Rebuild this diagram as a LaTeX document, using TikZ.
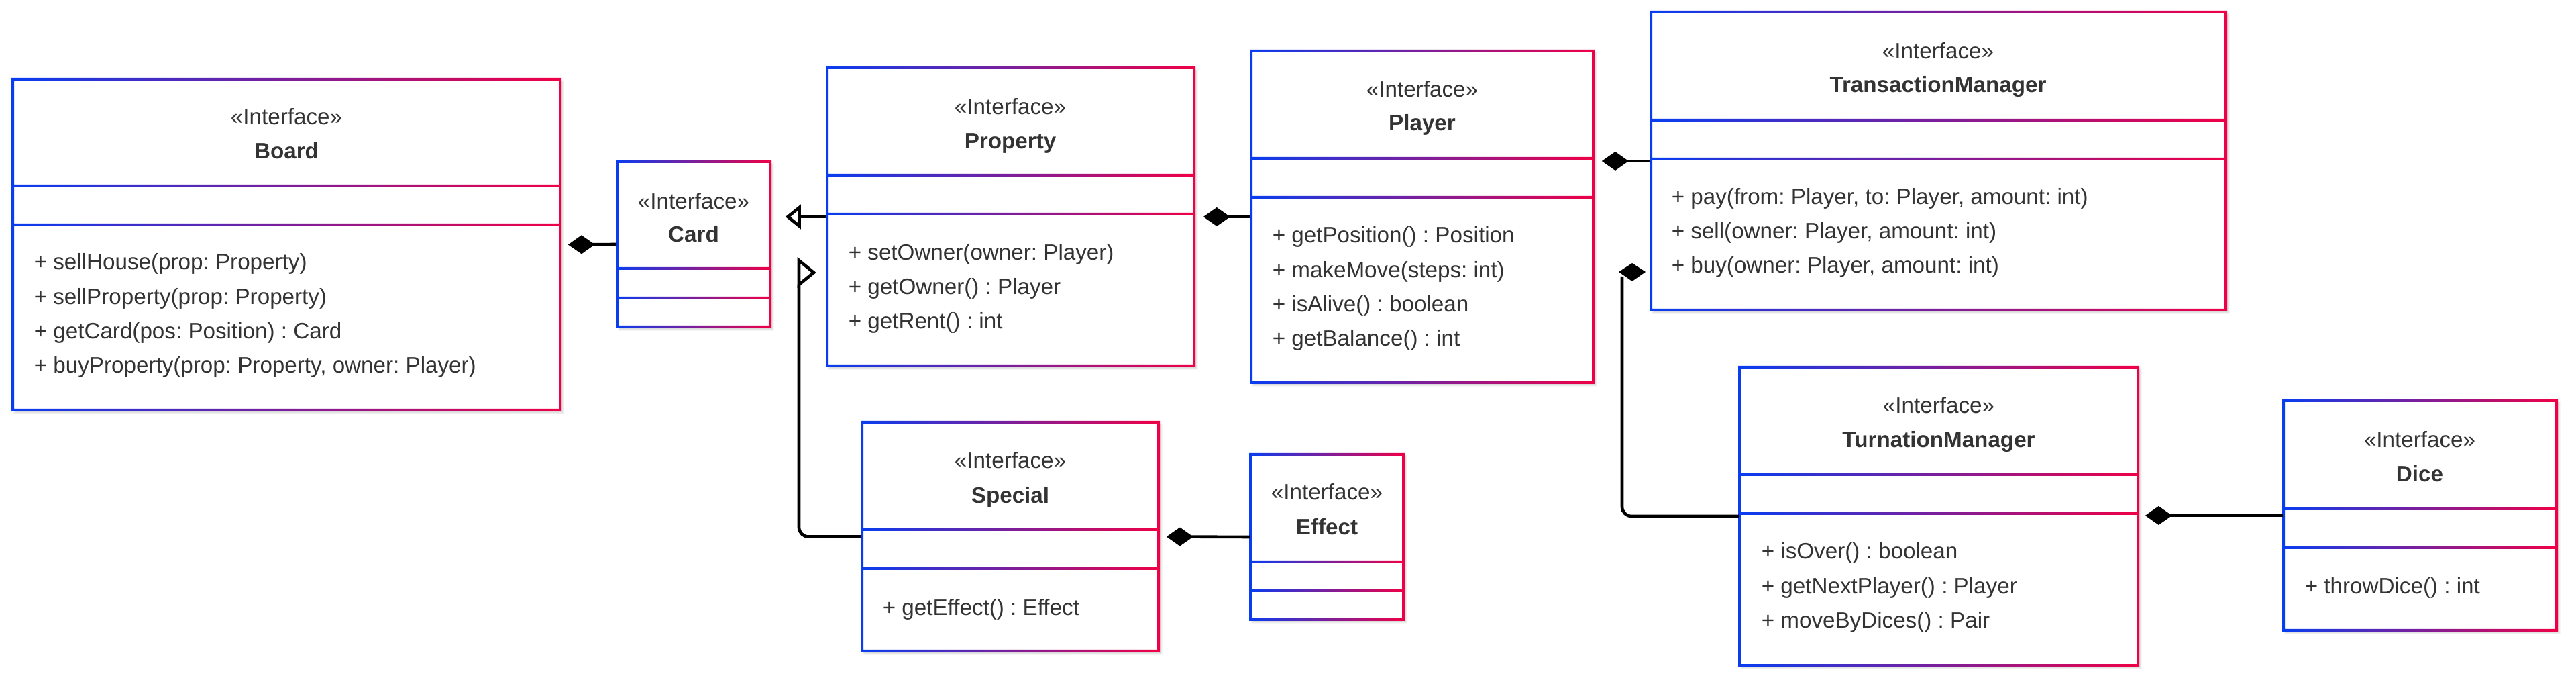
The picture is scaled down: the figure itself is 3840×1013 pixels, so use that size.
\documentclass[tikz,border=0pt]{standalone}
\usepackage{fontspec}
\setmainfont{Liberation Sans}
\usetikzlibrary{arrows.meta,fit}
\definecolor{uBlue}{RGB}{8,61,240}
\definecolor{uRed}{RGB}{240,0,70}
\definecolor{txt}{RGB}{51,51,51}
\frenchspacing
\tikzset{
  stereo/.style={font=\fontsize{8.3}{10}\selectfont, text=txt, anchor=base, inner sep=0pt},
  cname/.style={font=\fontsize{8.3}{10}\selectfont\bfseries, text=txt, anchor=base, inner sep=0pt},
  meth/.style={font=\fontsize{8.3}{10}\selectfont, text=txt, anchor=base west, inner sep=0pt},
  conn/.style={line width=1.15pt, draw=black},
  comp/.style={conn, {Diamond[length=10pt 0 0,width=7pt 0 0]}-},
  gen/.style={conn, -{Triangle[open,length=5.75pt 0 0,width=9pt 0 0]}},
  boxframe/.style={left color=uBlue, right color=uRed, even odd rule},
}
% name, x1, y1, x2, y2, divider1, divider2
\newcommand\umlbox[7]{%
  \foreach \k in {1,...,4}{\fill[black,opacity=0.035] (#2+5-\k,#3+5-\k) rectangle (#4+2+\k,#5+2+\k);}
  \fill[white] (#2,#3) rectangle (#4,#5);
  \shade[boxframe] (#2-2,#3-2) rectangle (#4+2,#5+2)
     (#2+2,#3+2) rectangle (#4-2,#6-2)
     (#2+2,#6+2) rectangle (#4-2,#7-2)
     (#2+2,#7+2) rectangle (#4-2,#5-2);
  \node[fit={(#2,#3) (#4,#5)}, inner sep=0pt] (#1) {};
}
\begin{document}
\begin{tikzpicture}[x=0.25pt,y=-0.25pt]
\useasboundingbox (0,0) rectangle (3840,1013);
\fill[white] (0,0) rectangle (3840,1013);

% boxes
\umlbox{board}{19}{118}{835}{611}{277}{335}
\umlbox{card}{920}{241}{1148}{487}{400}{444}
\umlbox{property}{1233}{101}{1780}{545}{261}{319}
\umlbox{player}{1865}{76}{2375}{570}{236}{294}
\umlbox{transaction}{2461}{18}{3318}{462}{179}{237}
\umlbox{turnation}{2593}{547}{3187}{991}{707}{765}
\umlbox{dice}{3404}{597}{3811}{939}{758}{816}
\umlbox{special}{1285}{629}{1727}{970}{789}{847}
\umlbox{effect}{1864}{677}{2092}{923}{837}{880}

% Board
\node[stereo] (board-s) at (427,186) {«Interface»};
\node[cname] (board-n) at (427,237) {Board};
\node[meth] (board-m1) at (50,402) {+ sellHouse(prop: Property)};
\node[meth] (board-m2) at (50,454) {+ sellProperty(prop: Property)};
\node[meth] (board-m3) at (50,505) {+ getCard(pos: Position) : Card};
\node[meth] (board-m4) at (50,556) {+ buyProperty(prop: Property, owner: Player)};

% Card
\node[stereo] (card-s) at (1034,312) {«Interface»};
\node[cname] (card-n) at (1034,361) {Card};

% Property
\node[stereo] (property-s) at (1506,171) {«Interface»};
\node[cname] (property-n) at (1506,222) {Property};
\node[meth] (property-m1) at (1264,388) {+ setOwner(owner: Player)};
\node[meth] (property-m2) at (1264,439) {+ getOwner() : Player};
\node[meth] (property-m3) at (1264,490) {+ getRent() : int};

% Player
\node[stereo] (player-s) at (2120,145) {«Interface»};
\node[cname] (player-n) at (2120,195) {Player};
\node[meth] (player-m1) at (1896,362) {+ getPosition() : Position};
\node[meth] (player-m2) at (1896,414) {+ makeMove(steps: int)};
\node[meth] (player-m3) at (1896,465) {+ isAlive() : boolean};
\node[meth] (player-m4) at (1896,516) {+ getBalance() : int};

% TransactionManager
\node[stereo] (transaction-s) at (2889,88) {«Interface»};
\node[cname] (transaction-n) at (2889,138) {TransactionManager};
\node[meth] (transaction-m1) at (2491,305) {+ pay(from: Player, to: Player, amount: int)};
\node[meth] (transaction-m2) at (2491,356) {+ sell(owner: Player, amount: int)};
\node[meth] (transaction-m3) at (2491,407) {+ buy(owner: Player, amount: int)};

% TurnationManager
\node[stereo] (turnation-s) at (2890,616) {«Interface»};
\node[cname] (turnation-n) at (2890,667) {TurnationManager};
\node[meth] (turnation-m1) at (2625,833) {+ isOver() : boolean};
\node[meth] (turnation-m2) at (2625,885) {+ getNextPlayer() : Player};
\node[meth] (turnation-m3) at (2625,935) {+ moveByDices() : Pair};

% Dice
\node[stereo] (dice-s) at (3607,667) {«Interface»};
\node[cname] (dice-n) at (3607,718) {Dice};
\node[meth] (dice-m1) at (3435,885) {+ throwDice() : int};

% Special
\node[stereo] (special-s) at (1506,698) {«Interface»};
\node[cname] (special-n) at (1506,750) {Special};
\node[meth] (special-m1) at (1315,917) {+ getEffect() : Effect};

% Effect
\node[stereo] (effect-s) at (1978,745) {«Interface»};
\node[cname] (effect-n) at (1978,797) {Effect};

% connectors
\draw[comp] ([xshift=2.75pt]board.east) -- (card.west);
\coordinate (prcd) at (card.east |- property.west);
\draw[gen] (property.west) -- ([xshift=5.5pt]prcd);
\draw[comp] ([xshift=3.25pt]property.east) -- (player.west);
\coordinate (pltm) at (player.east |- transaction.west);
\draw[comp] ([xshift=3pt]pltm) -- (transaction.west);
\draw[comp] ([xshift=2.75pt]special.east) -- (effect.west);
\coordinate (tudi) at (turnation.east |- dice.west);
\draw[comp] ([xshift=2.5pt]tudi) -- (dice.west);

\coordinate (genend) at (1191,424);
\draw[conn, rounded corners=3.5pt] (special.west) -| (genend);
\draw[conn, fill=white, line join=miter] (1191,388) -- (1213,406) -- (1191,424) -- cycle;

\coordinate (compend) at (2418,412);
\draw[conn, rounded corners=3.5pt] (turnation.west) -| (compend);
\fill[black] (2413,405) -- (2433,392) -- (2453,405) -- (2433,419) -- cycle;
\end{tikzpicture}
\end{document}
